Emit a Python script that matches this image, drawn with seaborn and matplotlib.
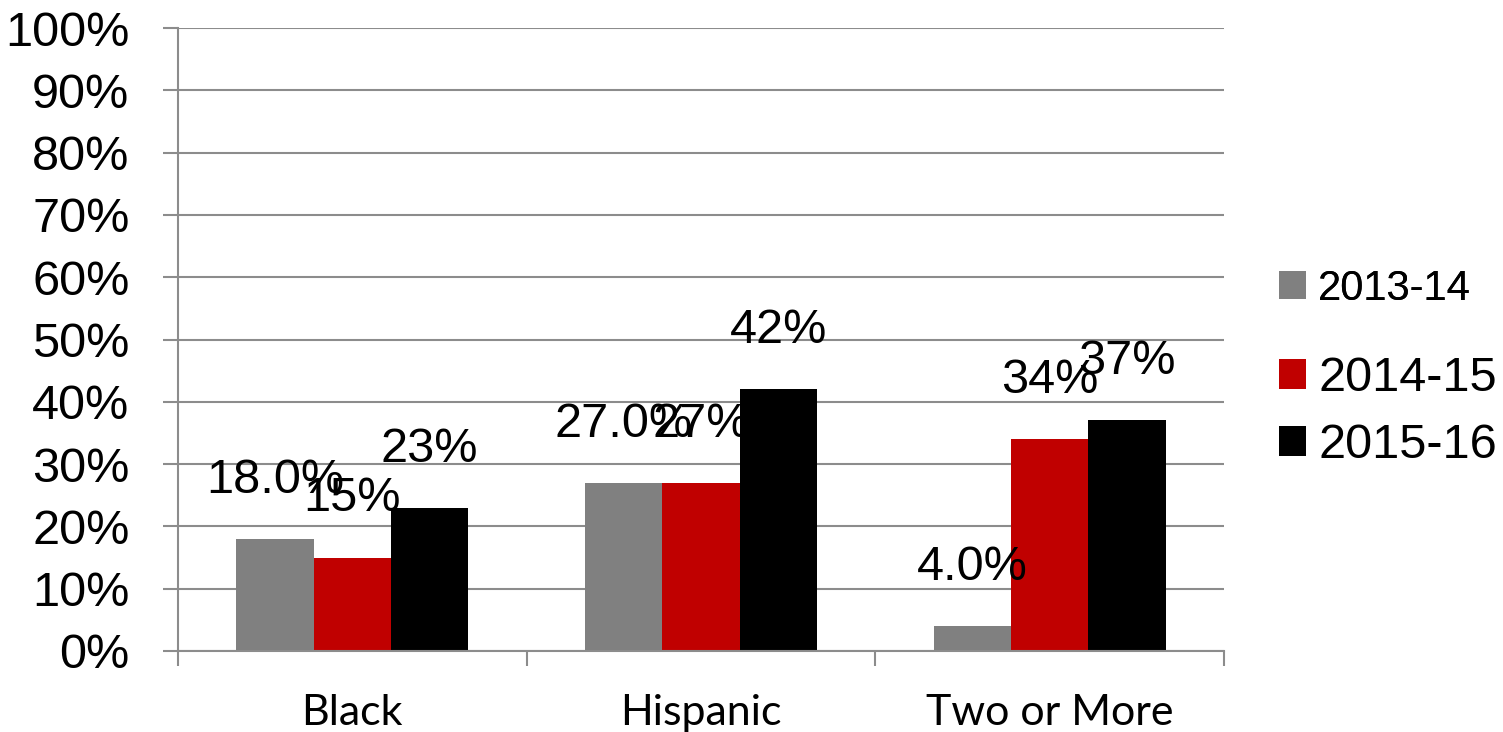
import matplotlib
matplotlib.use("Agg")
import matplotlib.pyplot as plt
from matplotlib.patches import Patch
from matplotlib.ticker import FixedLocator
import seaborn as sns
import pandas as pd

# Data
groups = ["Black", "Hispanic", "Two or More"]
years = ["2013-14", "2014-15", "2015-16"]
values_2013 = [18.0, 27.0, 4.0]
values_2014 = [15.0, 27.0, 34.0]
values_2015 = [23.0, 42.0, 37.0]
labels_2013 = ["18.0%", "27.0%", "4.0%"]
labels_2014 = ["15%", "27%", "34%"]
labels_2015 = ["23%", "42%", "37%"]
y_ticks = list(range(0, 101, 10))
y_tick_labels = [f"{t}%" for t in y_ticks]

colors = ["#808080", "#C00000", "#000000"]
grid_color = "#8c8c8c"

rows = []
for year, vals in zip(years, [values_2013, values_2014, values_2015]):
    for g, v in zip(groups, vals):
        rows.append({"group": g, "year": year, "value": v})
df = pd.DataFrame(rows)

sns.set_style("white")
plt.rcParams["font.family"] = ["Liberation Sans", "DejaVu Sans"]
plt.rcParams["text.color"] = "black"
plt.rcParams["xtick.color"] = "black"
plt.rcParams["ytick.color"] = "black"

fig = plt.figure(figsize=(15.03, 7.32), dpi=100)
ax = fig.add_axes([178 / 1503, 1 - 651 / 732, (1224 - 178) / 1503, (651 - 28) / 732])

sns.barplot(data=df, x="group", y="value", hue="year", hue_order=years,
            order=groups, palette=colors, width=0.665, gap=0,
            saturation=1, linewidth=0, ax=ax, legend=False, errorbar=None)

ax.set_xlim(-0.5, 2.5)
ax.set_ylim(0, 100)
ax.set_xlabel("")
ax.set_ylabel("")

# Gridlines
ax.set_yticks(y_ticks)
ax.set_yticklabels(y_tick_labels, fontsize=35, color="black")
ax.yaxis.grid(True, color=grid_color, linewidth=1.5)
ax.set_axisbelow(True)
ax.tick_params(axis="y", length=11, width=1.5, color=grid_color, labelcolor="black", pad=24, left=True)

# Category labels, with boundary tick marks
ax.set_xticks(range(len(groups)))
ax.set_xticklabels(groups, fontsize=31, family=["Lato", "DejaVu Sans"], color="black")
ax.tick_params(axis="x", which="major", length=0, pad=31)
ax.xaxis.set_minor_locator(FixedLocator([-0.5, 0.5, 1.5, 2.5]))
ax.tick_params(axis="x", which="minor", length=11, width=1.5, color=grid_color, bottom=True)

for side in ["top", "right"]:
    ax.spines[side].set_visible(False)
for side in ["left", "bottom"]:
    ax.spines[side].set_color(grid_color)
    ax.spines[side].set_linewidth(1.5)

# Value labels
for container, labels in zip(ax.containers, [labels_2013, labels_2014, labels_2015]):
    ax.bar_label(container, labels=labels, padding=26, fontsize=35, color="black")

# Legend: first entry set in a smaller size than the other two
handles = [Patch(facecolor=c, edgecolor="none") for c in colors]
leg1 = fig.legend(handles[:1], years[:1], loc="center left",
                  bbox_to_anchor=(1279 / 1503, 1 - 289 / 732),
                  frameon=False, fontsize=30, handlelength=0.65, handleheight=0.65,
                  handletextpad=0.29, borderpad=0, borderaxespad=0)
leg2 = fig.legend(handles[1:], years[1:], loc="center left",
                  bbox_to_anchor=(1279 / 1503, 1 - 412 / 732),
                  frameon=False, fontsize=35, handlelength=0.56, handleheight=0.56,
                  handletextpad=0.25, labelspacing=0.45, borderpad=0, borderaxespad=0)
fig.add_artist(leg1)

fig.savefig("out.png", dpi=100)
